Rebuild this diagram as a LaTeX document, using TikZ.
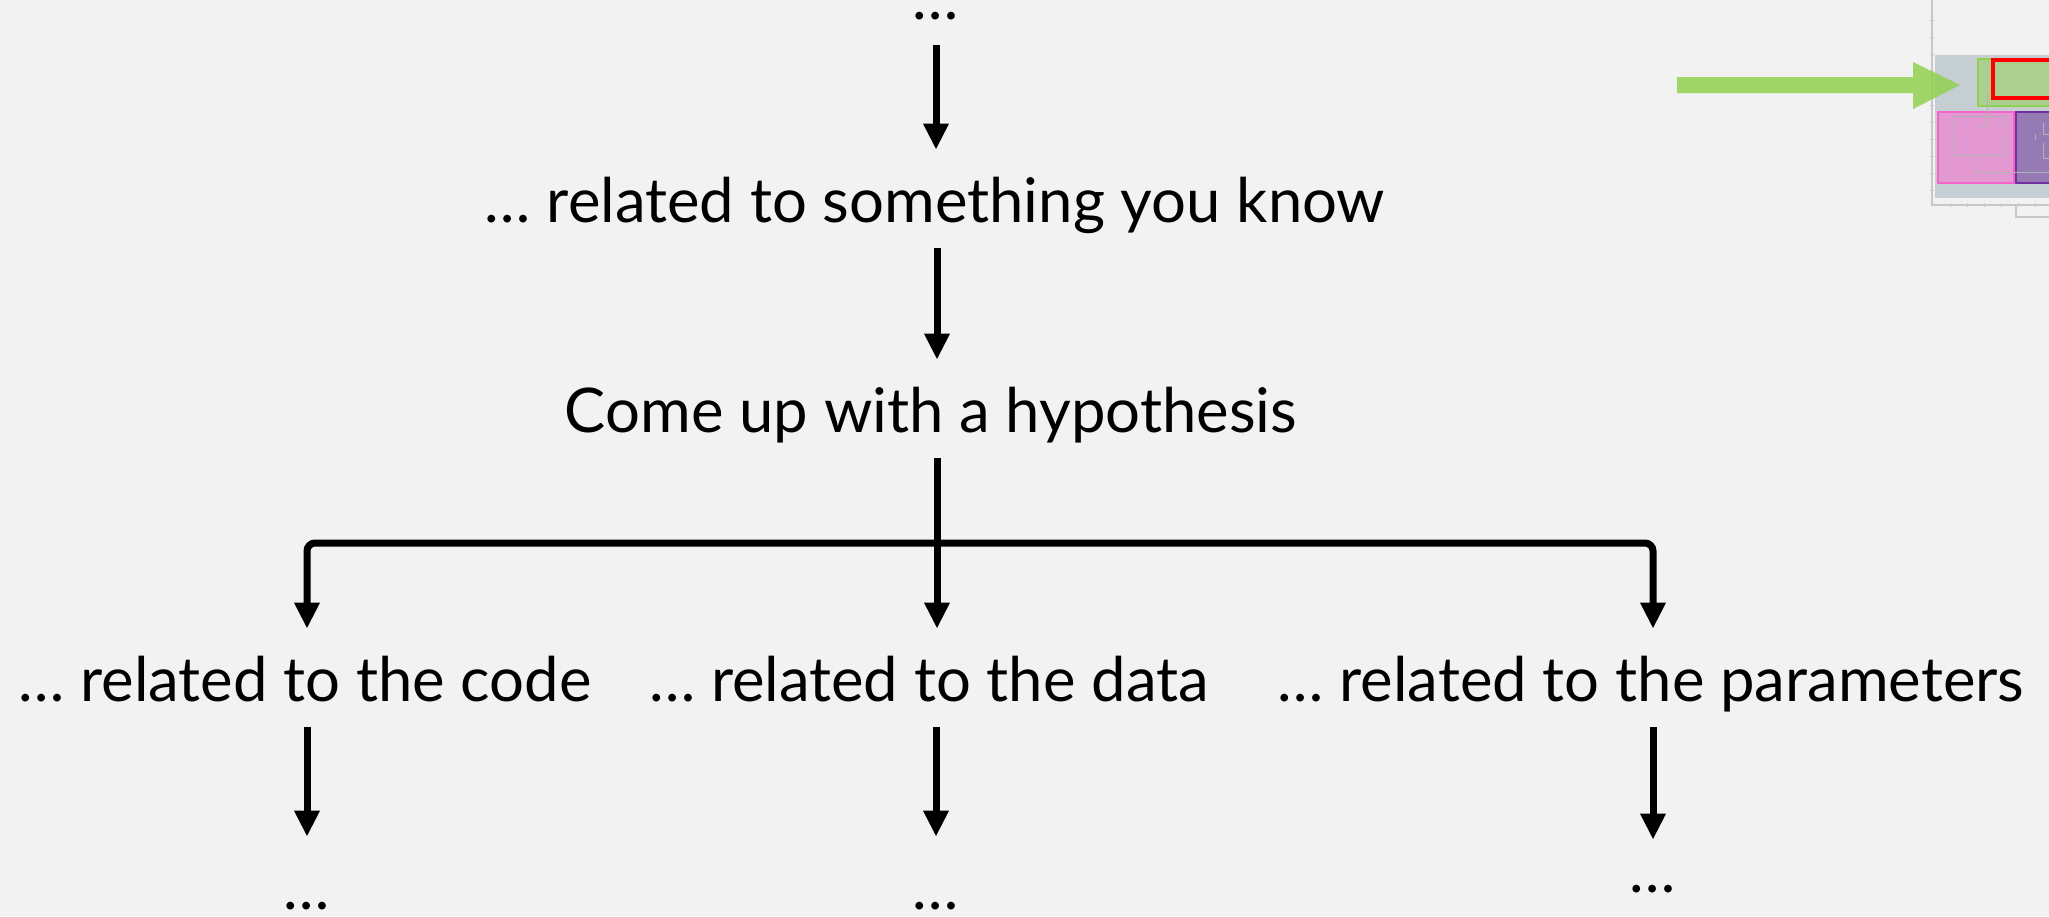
\documentclass[tikz,border=0pt]{standalone}
\usepackage{fontspec}
\setmainfont{Lato}
\usetikzlibrary{arrows.meta}
\definecolor{paper}{RGB}{242,242,242}
\definecolor{axisgray}{RGB}{200,200,200}
\definecolor{mapgray}{RGB}{197,206,210}
\definecolor{mapgreen}{RGB}{146,208,80}
\definecolor{mapgreenfill}{RGB}{172,206,142}
\definecolor{mappink}{RGB}{245,100,200}
\definecolor{mappinkfill}{RGB}{228,152,210}
\definecolor{mappurple}{RGB}{112,48,160}
\definecolor{mappurplefill}{RGB}{150,122,180}
\begin{document}
\begin{tikzpicture}[x=0.5pt, y=-0.5pt,
  stage/.style={anchor=base, inner xsep=0pt, inner ysep=8pt, text height=28pt, text depth=5pt,
    font=\fontsize{30.8pt}{36pt}\selectfont},
  flow/.style={line width=3.5pt, -{Triangle[width=12pt,length=13pt]}},
  wire/.style={line width=3.5pt}]
\useasboundingbox (0,0) rectangle (2049,916);
\fill[paper] (0,0) rectangle (2049,916);
\node[stage] (top) at (936,19) {…};
\node[stage] (known) at (935,222) {… related to something you know};
\node[stage] (hypo) at (931,432) {Come up with a hypothesis};
\node[stage] (code) at (305,701) {… related to the code};
\node[stage] (data) at (929,701) {… related to the data};
\node[stage] (params) at (1651,701) {… related to the parameters};
\node[stage] (codenext) at (307,909) {…};
\node[stage] (datanext) at (936,909) {…};
\node[stage, text height=18pt] (paramsnext) at (1653,892) {…};
\coordinate (split) at (937,543);
\draw[flow] (top.south) -- (top.south |- known.north);
\draw[flow] (split |- known.south) -- (split |- hypo.north);
\draw[flow] (split |- hypo.south) -- (split |- data.north);
\draw[flow, rounded corners=4pt] (split) -| (codenext |- code.north);
\draw[flow, rounded corners=4pt] (split) -| (paramsnext |- params.north);
\draw[flow] (codenext |- code.south) -- (codenext.north);
\draw[flow] (datanext |- data.south) -- (datanext.north);
\draw[flow] (paramsnext |- params.south) -- (paramsnext.north);
\begin{scope}
\clip (1650,0) rectangle (2049,230);
\draw[axisgray, line width=1pt] (1932,0) -- (1932,205) -- (2060,205);
\foreach \y in {20,37,54,71,88,105,122,139,156,173,190}
  \draw[axisgray, line width=0.5pt] (1930,\y) -- (1934,\y);
\foreach \x in {1950,1967,1984,2001,2018,2035}
  \draw[axisgray, line width=0.5pt] (\x,203) -- (\x,207);
\draw[axisgray, line width=0.8pt] (2016,205) -- (2016,217) -- (2060,217);
\fill[mapgray] (1935,55) rectangle (2060,198);
\draw[mapgreen, line width=1.2pt, fill=mapgreenfill] (1978,59) rectangle (2060,106);
\draw[red, line width=2pt] (1993,60) rectangle (2060,98);
\draw[mappink, line width=1.2pt, fill=mappinkfill] (1938,112) rectangle (2014,183);
\draw[mappurple, line width=1.2pt, fill=mappurplefill] (2016,112) rectangle (2060,183);
\draw[gray!60, line width=0.3pt] (1987,92) -- (1987,126) -- (1978,126);
\draw[gray!60, line width=0.3pt] (1953,131) -- (1953,116) -- (2004,116) -- (2004,130);
\draw[gray!60, line width=0.3pt] (1953,133) -- (1953,155) -- (2004,155) -- (2004,134);
\draw[gray!60, line width=0.3pt] (1975,155) -- (1975,162);
\draw[gray!60, line width=0.3pt] (1975,168) -- (1975,172) -- (2060,172);
\draw[gray!60, line width=0.3pt] (2043,123) -- (2043,134) -- (2060,134);
\draw[gray!60, line width=0.3pt] (2035,134) -- (2035,140);
\draw[gray!60, line width=0.3pt] (2043,143) -- (2043,158) -- (2060,158);
\fill[mapgreen, opacity=0.85] (1677,77) -- (1913,77) -- (1913,62) -- (1960,85) -- (1913,109) -- (1913,93) -- (1677,93) -- cycle;
\end{scope}
\end{tikzpicture}
\end{document}
